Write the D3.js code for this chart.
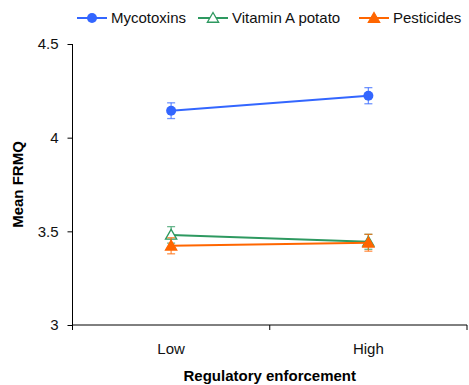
<!DOCTYPE html>
<html>
<head>
<meta charset="utf-8">
<script src="https://cdn.jsdelivr.net/npm/d3@7"></script>
<style>
  html, body { margin: 0; padding: 0; background: #fff; }
  svg { display: block; font-family: "Liberation Sans", Arial, sans-serif; }
</style>
</head>
<body>
<div id="chart"></div>
<script>
const categories = ['Low', 'High'];
const seriesNames = ['Mycotoxins', 'Vitamin A potato', 'Pesticides'];
const mycotoxins = [4.144, 4.224];
const vitaminA = [3.481, 3.444];
const pesticides = [3.423, 3.439];
const mycotoxinsErr = [0.042, 0.043];
const vitaminAErr = [0.044, 0.04];
const pesticidesErr = [0.043, 0.045];
const yTicks = [3, 3.5, 4, 4.5];

const series = [
  { name: seriesNames[0], values: mycotoxins, err: mycotoxinsErr, color: '#3366ff', marker: 'circle', filled: true },
  { name: seriesNames[1], values: vitaminA, err: vitaminAErr, color: '#2e9960', marker: 'triangle', filled: false },
  { name: seriesNames[2], values: pesticides, err: pesticidesErr, color: '#ff6600', marker: 'triangle', filled: true },
];

const width = 469, height = 385;
const margin = { top: 44, right: 2, bottom: 60, left: 72.5 };
const fs = 15;

const svg = d3.select('#chart').append('svg')
  .attr('width', width).attr('height', height);

const x = d3.scaleBand().domain(categories).range([margin.left, width - margin.right]);
const y = d3.scaleLinear().domain([3, 4.5]).range([height - margin.bottom, margin.top]);

// y axis
const yAxis = svg.append('g')
  .attr('transform', `translate(${margin.left},0)`)
  .call(d3.axisLeft(y).tickValues(yTicks).tickFormat(d3.format('')).tickSize(5).tickPadding(9));
yAxis.select('.domain').attr('d', `M0,${y(4.5)}V${y(3)}`);
yAxis.selectAll('text').attr('font-size', fs).attr('fill', '#111').attr('font-family', null);

// x axis with ticks at band edges
const xAxis = svg.append('g')
  .attr('transform', `translate(0,${y(3)})`);
xAxis.append('line')
  .attr('x1', margin.left).attr('x2', width - margin.right)
  .attr('stroke', '#000');
const edges = [margin.left].concat(categories.map(c => x(c) + x.bandwidth()));
xAxis.selectAll('.edge').data(edges).enter().append('line')
  .attr('x1', d => d).attr('x2', d => d).attr('y1', 0).attr('y2', 5)
  .attr('stroke', '#000');
xAxis.selectAll('.cat').data(categories).enter().append('text')
  .attr('x', d => x(d) + x.bandwidth() / 2)
  .attr('y', 29)
  .attr('text-anchor', 'middle')
  .attr('font-size', fs).attr('fill', '#111')
  .text(d => d);

// axis titles
svg.append('text')
  .attr('x', (margin.left + width - margin.right) / 2)
  .attr('y', 381)
  .attr('text-anchor', 'middle')
  .attr('font-size', fs).attr('font-weight', 'bold')
  .text('Regulatory enforcement');
svg.append('text')
  .attr('transform', `translate(23,${(y(3) + y(4.5)) / 2}) rotate(-90)`)
  .attr('text-anchor', 'middle')
  .attr('font-size', fs).attr('font-weight', 'bold')
  .text('Mean FRMQ');

const tri = d3.symbol().type(d3.symbolTriangle).size(55);

function drawMarker(g, s, cx, cy) {
  if (s.marker === 'circle') {
    g.append('circle').attr('cx', cx).attr('cy', cy).attr('r', 5).attr('fill', s.color);
  } else {
    g.append('path').attr('d', tri)
      .attr('transform', `translate(${cx},${cy + 1})`)
      .attr('fill', s.filled ? s.color : '#fff')
      .attr('stroke', s.color).attr('stroke-width', 1.3);
  }
}

const cx = c => x(c) + x.bandwidth() / 2;

const line = d3.line().x((d, i) => cx(categories[i])).y(d => y(d));

series.forEach(s => {
  const g = svg.append('g');
  // error bars
  s.values.forEach((v, i) => {
    const px = cx(categories[i]);
    const e = s.err[i];
    const eg = g.append('g').attr('stroke', s.color).attr('stroke-opacity', 0.7).attr('stroke-width', 1.3);
    eg.append('line').attr('x1', px).attr('x2', px).attr('y1', y(v + e)).attr('y2', y(v - e));
    eg.append('line').attr('x1', px - 4).attr('x2', px + 4).attr('y1', y(v + e)).attr('y2', y(v + e));
    eg.append('line').attr('x1', px - 4).attr('x2', px + 4).attr('y1', y(v - e)).attr('y2', y(v - e));
  });
  g.append('path').datum(s.values)
    .attr('d', line)
    .attr('fill', 'none').attr('stroke', s.color).attr('stroke-width', 2);
  s.values.forEach((v, i) => drawMarker(g, s, cx(categories[i]), y(v)));
});

// legend
const legendX = [77, 198, 359];
const legend = svg.append('g').attr('transform', 'translate(0,18)');
series.forEach((s, i) => {
  const lg = legend.append('g').attr('transform', `translate(${legendX[i]},0)`);
  lg.append('line').attr('x1', 0).attr('x2', 30).attr('stroke', s.color).attr('stroke-width', 2);
  drawMarker(lg, s, 15, 0);
  lg.append('text').attr('x', 34).attr('y', 5)
    .attr('font-size', fs).attr('fill', '#111')
    .text(s.name);
});
</script>
</body>
</html>
